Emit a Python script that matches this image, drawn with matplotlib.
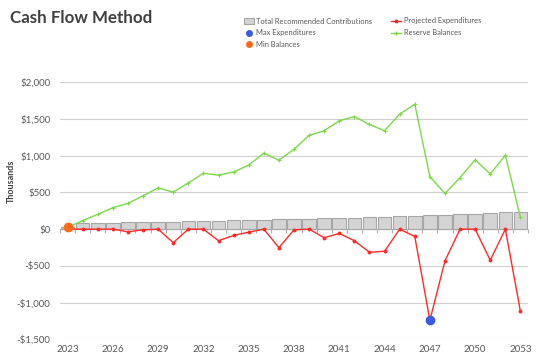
import matplotlib
matplotlib.use("Agg")
import matplotlib.pyplot as plt
import numpy as np
from matplotlib.patches import Patch
from matplotlib.lines import Line2D

years = list(range(2023, 2054))
contributions = [27, 81, 81, 81, 95, 95, 95, 95, 108, 108, 108, 122, 122, 122,
                 135, 135, 135, 148, 148, 148, 162, 162, 175, 175, 189, 189,
                 202, 202, 216, 229, 229]
expenditures = [0, 0, 0, 0, -36, -10, 0, -184, 0, 0, -157, -86, -41, 0,
                -252, -9, 0, -117, -58, -157, -315, -301, 0, -99, -1242, -432,
                0, 0, -423, 0, -1121]
reserves = [25, 116, 202, 292, 351, 454, 562, 504, 630, 760, 737, 778, 872, 1034,
            940, 1088, 1277, 1340, 1476, 1534, 1426, 1340, 1566, 1701, 715, 486,
            702, 945, 751, 1007, 160]
yticks = [-1500, -1000, -500, 0, 500, 1000, 1500, 2000]

plt.rcParams['font.family'] = ['Lato', 'DejaVu Sans']
txt = '#595959'

fig = plt.figure(figsize=(5.43, 3.59), dpi=100)
ax = fig.add_axes([60/543, 1-339.3/359, 468/543, (339.3-82.3)/359])

x = np.arange(len(years))
ax.bar(x, contributions, width=0.9, color='#D4D4D4', edgecolor='#A6A6A6', linewidth=0.8, zorder=2)
ax.plot(x, reserves, color='#7DD84A', lw=1.0, marker='+', ms=3, mew=0.8, zorder=3)
ax.plot(x, expenditures, color='#FF2A2A', lw=1.0, marker='o', ms=1.8, zorder=4)
imax = int(np.argmin(expenditures))
ax.plot([x[imax]], [expenditures[imax]], 'o', color='#3A5BE0', ms=6, zorder=5)
ax.plot([x[0]], [reserves[0]], 'o', color='#FF6A1A', ms=6, zorder=5)

ax.set_xlim(-0.5, len(years)-0.5)
ax.set_ylim(-1500, 2000)
ax.set_yticks(yticks)
ax.set_yticklabels([("-$" if v < 0 else "$") + f"{abs(v):,}" for v in yticks])
ax.grid(axis='y', color='#D0D0D0', lw=0.8, zorder=0)
ax.set_axisbelow(True)
for s in ax.spines.values():
    s.set_visible(False)
ax.tick_params(axis='y', length=0, labelsize=7, labelcolor=txt, pad=7)
lab_idx = list(range(0, len(years), 3))
ax.set_xticks(lab_idx)
ax.set_xticklabels([str(years[i]) for i in lab_idx])
ax.tick_params(axis='x', length=0, labelsize=7, labelcolor=txt, pad=4)

# zero axis with boundary ticks
ax.axhline(0, color='#B0B0B0', lw=0.8, zorder=1)
sec = ax.secondary_xaxis(1500/3500)
sec.spines['bottom'].set_visible(False)
sec.set_xticks(np.arange(len(years)+1) - 0.5)
sec.tick_params(axis='x', length=3, color='#B0B0B0', labelbottom=False, width=0.8)

fig.text(10/543, 1-18/359, 'Cash Flow Method', fontsize=12.2, fontweight='bold',
         color='#404040', va='center', ha='left')
fig.text(11/543, 1-181/359, 'Thousands', rotation=90, fontsize=6.5, fontweight='bold',
         color='#404040', va='center', ha='center')

handles = [Patch(facecolor='#D4D4D4', edgecolor='#A6A6A6', lw=0.8),
           Line2D([], [], ls='none', marker='o', color='#3A5BE0', ms=4),
           Line2D([], [], ls='none', marker='o', color='#FF6A1A', ms=4),
           Line2D([], [], color='#FF2A2A', lw=1.0, marker='o', ms=1.8),
           Line2D([], [], color='#7DD84A', lw=1.0, marker='+', ms=3)]
labels = ['Total Recommended Contributions', 'Max Expenditures', 'Min Balances',
          'Projected Expenditures', 'Reserve Balances']
leg = fig.legend(handles, labels, ncol=2, loc='upper left', bbox_to_anchor=(244/543, 1-17.5/359),
                 frameon=False, fontsize=5.4, labelcolor=txt, handlelength=1.35,
                 handletextpad=0.3, columnspacing=2.5, labelspacing=0.62, borderpad=0,
                 borderaxespad=0)

fig.savefig('out.png', dpi=100)
